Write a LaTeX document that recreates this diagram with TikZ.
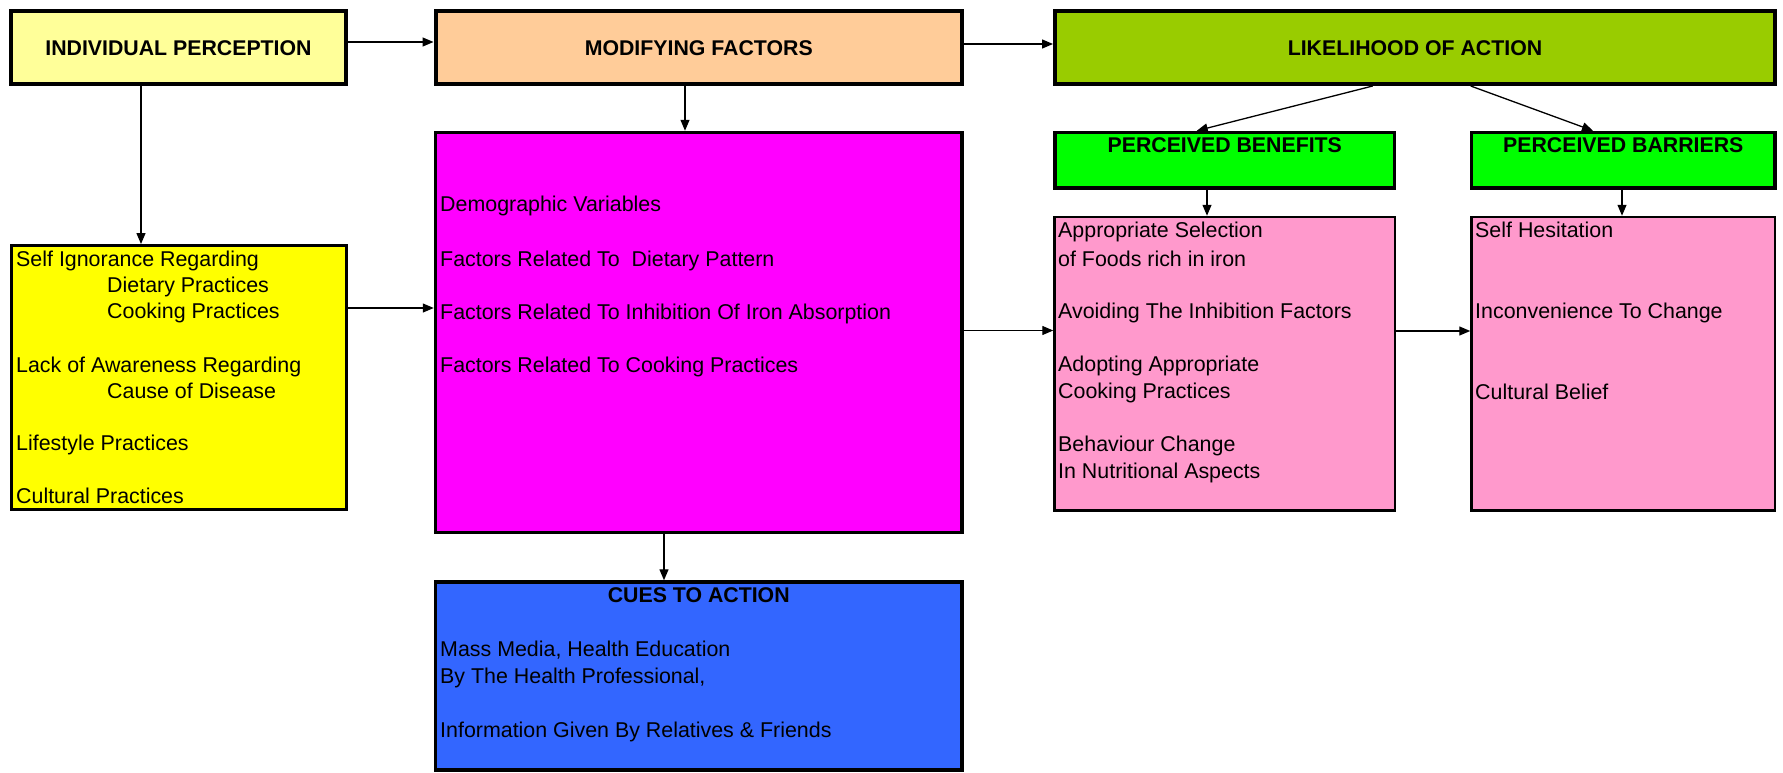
\documentclass[tikz,border=0pt]{standalone}
\usepackage{fontspec}
\setmainfont{Liberation Sans}
\usetikzlibrary{arrows.meta}
\definecolor{cIP}{HTML}{FFFF99}
\definecolor{cMF}{HTML}{FFCC99}
\definecolor{cLOA}{HTML}{99CC00}
\definecolor{cGreen}{HTML}{00FF00}
\definecolor{cMag}{HTML}{FF00FF}
\definecolor{cYel}{HTML}{FFFF00}
\definecolor{cPink}{HTML}{FF99CC}
\definecolor{cBlue}{HTML}{3366FF}
\begin{document}
\begin{tikzpicture}[x=1pt,y=-1pt,
  box/.style={draw=black, rectangle, inner sep=0pt},
  txt/.style={anchor=base west, inner sep=0pt, font=\fontsize{21.4}{25}\selectfont},
  ttl/.style={anchor=base, inner sep=0pt, font=\fontsize{21.3}{25}\selectfont\bfseries},
  arr/.style={draw=black, line width=1.3pt, -{Triangle[length=11pt,width=9pt]}}]
\useasboundingbox (0,0) rectangle (1783,772);
% boxes
\node[box, fill=cIP, line width=4pt, minimum width=335pt, minimum height=73pt] (ip) at (178.5,47.5) {};
\node[box, fill=cMF, line width=4pt, minimum width=526.5pt, minimum height=73pt] (mf) at (698.75,47.5) {};
\node[box, fill=cLOA, line width=4pt, minimum width=720pt, minimum height=73pt] (loa) at (1415,47.5) {};
\node[box, fill=cMag, line width=3.5pt, minimum width=526.5pt, minimum height=400pt] (mag) at (698.75,332.5) {};
\node[box, fill=cYel, line width=3pt, minimum width=335.5pt, minimum height=264pt] (yel) at (178.75,377.5) {};
\node[box, fill=cBlue, line width=3.5pt, minimum width=526.5pt, minimum height=188pt] (blue) at (698.75,676) {};
\node[box, fill=cGreen, line width=3.5pt, minimum width=339.5pt, minimum height=55.5pt] (pb) at (1224.75,160.25) {};
\node[box, fill=cGreen, line width=3.5pt, minimum width=303.5pt, minimum height=55.5pt] (pbar) at (1623.25,160.25) {};
\node[box, fill=cPink, line width=2.5pt, minimum width=340.5pt, minimum height=293.5pt] (pk1) at (1224.75,363.75) {};
\node[box, fill=cPink, line width=2.5pt, minimum width=303.5pt, minimum height=293.5pt] (pk2) at (1623.25,363.75) {};
% titles
\node[ttl] (tip) at (178.5,55) {INDIVIDUAL PERCEPTION};
\node[ttl] (tmf) at (698.75,55) {MODIFYING FACTORS};
\node[ttl] (tloa) at (1415,55) {LIKELIHOOD OF ACTION};
\node[ttl] (tpb) at (1224.75,152) {PERCEIVED BENEFITS};
\node[ttl] (tpbar) at (1623.25,152) {PERCEIVED BARRIERS};
\node[ttl] (tblue) at (698.75,602) {CUES TO ACTION};
% yellow texts
\node[txt] (y1) at (16,266.7) {Self Ignorance Regarding};
\node[txt] (y2) at (107,292.7) {Dietary Practices};
\node[txt] (y3) at (107,318) {Cooking Practices};
\node[txt] (y4) at (16,372.7) {Lack of Awareness Regarding};
\node[txt] (y5) at (107,398) {Cause of Disease};
\node[txt] (y6) at (16,450.7) {Lifestyle Practices};
\node[txt] (y7) at (16,503) {Cultural Practices};
% magenta texts
\node[txt] (m1) at (440,211) {Demographic Variables};
\node[txt] (m2) at (440,266.5) {Factors Related To\ \ Dietary Pattern};
\node[txt] (m3) at (440,319) {Factors Related To Inhibition Of Iron Absorption};
\node[txt] (m4) at (440,372) {Factors Related To Cooking Practices};
% pink 1 texts
\node[txt] (p1) at (1058,237) {Appropriate Selection};
\node[txt] (p2) at (1058,266.5) {of Foods rich in iron};
\node[txt] (p3) at (1058,318) {Avoiding The Inhibition Factors};
\node[txt] (p4) at (1058,371.5) {Adopting Appropriate};
\node[txt] (p5) at (1058,398.5) {Cooking Practices};
\node[txt] (p6) at (1058,451.5) {Behaviour Change};
\node[txt] (p7) at (1058,478) {In Nutritional Aspects};
% pink 2 texts
\node[txt] (q1) at (1475,237) {Self Hesitation};
\node[txt] (q2) at (1475,318) {Inconvenience To Change};
\node[txt] (q3) at (1475,399) {Cultural Belief};
% blue texts
\node[txt] (b1) at (440,656.5) {Mass Media, Health Education};
\node[txt] (b2) at (440,683) {By The Health Professional,};
\node[txt] (b3) at (440,737) {Information Given By Relatives \& Friends};
% connectors
\draw[arr] ([yshift=5.5pt]ip.east) -- ([yshift=5.5pt]mf.west);
\draw[arr] ([xshift=-37.5pt]ip.south) -- ([xshift=-37.75pt]yel.north);
\draw[arr] ([yshift=3.5pt]mf.east) -- ([yshift=3.5pt]loa.west);
\draw[arr] ([xshift=-13.75pt]mf.south) -- ([xshift=-13.75pt]mag.north);
\draw[arr] ([yshift=69.5pt]yel.east) -- ([yshift=24.5pt]mag.west);
\draw[arr] ([yshift=2pt]mag.east) -- ([yshift=33.25pt]pk1.west);
\draw[arr] ([xshift=-34.75pt]mag.south) -- ([xshift=-34.75pt]blue.north);
\draw[arr] ([yshift=32.75pt]pk1.east) -- ([yshift=32.75pt]pk2.west);
\draw[arr] ([xshift=-17.75pt]pb.south) -- ([xshift=-17.75pt]pk1.north);
\draw[arr] ([xshift=-1.25pt]pbar.south) -- ([xshift=-1.25pt]pk2.north);
\draw[arr] ([xshift=-42.3pt]loa.south) -- ([xshift=-28pt]pb.north);
\draw[arr] ([xshift=55.7pt]loa.south) -- ([xshift=-30.25pt]pbar.north);
\end{tikzpicture}
\end{document}
